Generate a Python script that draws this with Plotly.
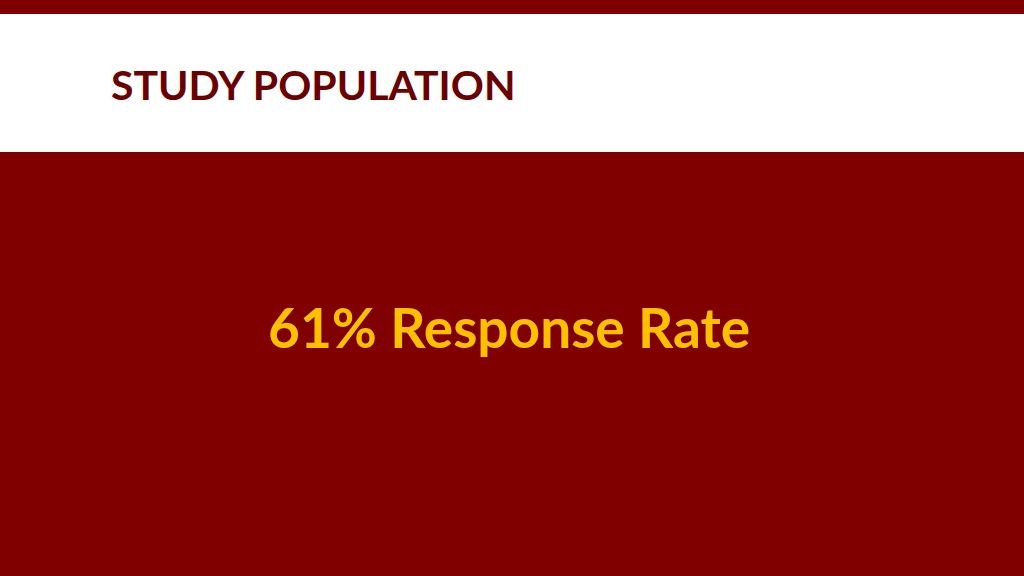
import plotly.graph_objects as go

slide_title = "STUDY POPULATION"
response_rate = 61
metric_label = "Response Rate"

DARK_RED = "#800000"
TITLE_RED = "#6B0000"
GOLD = "#FFC000"

fig = go.Figure()

# background bands: thin red strip on top, white title band, red body
fig.add_shape(type="rect", xref="paper", yref="paper", x0=0, x1=1, y0=1 - 14 / 576, y1=1,
              fillcolor=DARK_RED, line_width=0, layer="below")
fig.add_shape(type="rect", xref="paper", yref="paper", x0=0, x1=1, y0=0, y1=1 - 152 / 576,
              fillcolor=DARK_RED, line_width=0, layer="below")

fig.add_annotation(
    text=f"<b>{slide_title}</b>", xref="paper", yref="paper",
    x=109 / 1024, y=1 - 84 / 576, xanchor="left", yanchor="middle",
    showarrow=False, font=dict(family="Lato", size=41, color=TITLE_RED),
)
fig.add_annotation(
    text=f"<b>{response_rate}% {metric_label}</b>", xref="paper", yref="paper",
    x=509 / 1024, y=1 - 327 / 576, xanchor="center", yanchor="middle",
    showarrow=False, font=dict(family="Lato", size=55, color=GOLD),
)

fig.update_xaxes(visible=False)
fig.update_yaxes(visible=False)
fig.update_layout(
    width=1024, height=576,
    margin=dict(l=0, r=0, t=0, b=0),
    paper_bgcolor="white", plot_bgcolor="white",
    showlegend=False,
)
fig.write_html("out.html", config={"displayModeBar": False},
               post_script="document.body.style.margin='0';")
